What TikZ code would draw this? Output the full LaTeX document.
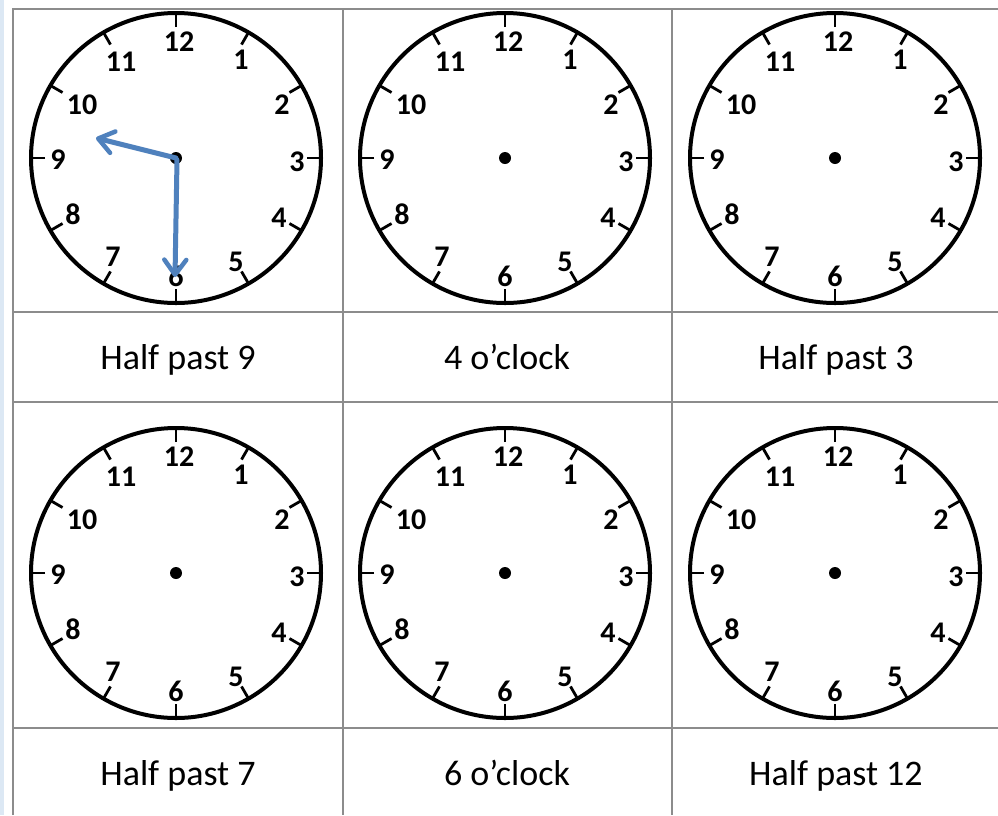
\documentclass[tikz,border=0pt]{standalone}
\usepackage{fontspec}
\setmainfont{Carlito}[BoldFont={Carlito Bold}]
\usetikzlibrary{arrows.meta,calc}
\definecolor{handblue}{HTML}{4F81BD}
\definecolor{gridgray}{HTML}{8C8C8C}
\definecolor{stripblue}{HTML}{DCE8F4}
\newcommand{\myclock}[3]{%
  % #1 = x, #2 = y, #3 = name prefix
  \coordinate (#3c) at (#1,#2);
  \draw[face] (#3c) circle[radius=145];
  \foreach \h in {1,...,12}{
    \draw[tick] ($(#3c)+({90-30*\h}:131)$) -- ($(#3c)+({90-30*\h}:145)$);
  }
  \foreach \h/\dx/\dy in {12/3/-116, 1/65/-98, 2/106/-53, 3/121/4, 4/103/60, 5/60/104, 6/0/118, 7/-63/99, 8/-103/56, 9/-118/2, 10/-94/-53, 11/-55/-96}{
    \node[num] (#3n\h) at ($(#3c)+(\dx,\dy)$) {\h};
  }
  \fill (#3c) circle[radius=6];
}
\begin{document}
\begin{tikzpicture}[x=1pt,y=-1pt,
  grid/.style={draw=gridgray, line width=1.3pt},
  face/.style={draw=black, line width=4pt},
  tick/.style={draw=black, line width=2.8pt},
  num/.style={font=\bfseries\fontsize{30}{30}\selectfont, inner sep=0pt},
  lab/.style={font=\fontsize{36}{36}\selectfont, inner sep=0pt, anchor=base},
  hand/.style={draw=handblue, line width=5pt, line cap=round,
    -{Straight Barb[length=15pt,width=22pt,line width=4.5pt,round]}}]
\useasboundingbox (0,0) rectangle (998,815);
\fill[white] (0,0) rectangle (998,815);
\fill[stripblue] (0,0) rectangle (4,815);
% grid
\coordinate (g1) at (13,9);
\coordinate (g2) at (998,9);
\coordinate (g3) at (13,815);
\draw[grid] (13,815) -- (g1) -- (g2);
\draw[grid] (343,9) -- (343,815);
\draw[grid] (672,9) -- (672,815);
\draw[grid] (13,312) -- (998,312);
\draw[grid] (13,402) -- (998,402);
\draw[grid] (13,728) -- (998,728);
% clocks
\myclock{176}{158}{a}
\myclock{505}{158}{b}
\myclock{835}{158}{c}
\myclock{176}{573}{d}
\myclock{505}{573}{e}
\myclock{835}{573}{f}
% hands on first clock
\coordinate (hourtip) at (96,138);
\coordinate (mintip) at (175,277);
\coordinate (minstart) at (177,160);
\draw[hand] (ac) -- (hourtip);
\draw[hand] (minstart) -- (mintip);
% labels
\node[lab] (l1) at (178,369) {Half past 9};
\node[lab] (l2) at (507,369) {4 o’clock};
\node[lab] (l3) at (836,369) {Half past 3};
\node[lab] (l4) at (178,785) {Half past 7};
\node[lab] (l5) at (507,785) {6 o’clock};
\node[lab] (l6) at (836,785) {Half past 12};
\end{tikzpicture}
\end{document}
